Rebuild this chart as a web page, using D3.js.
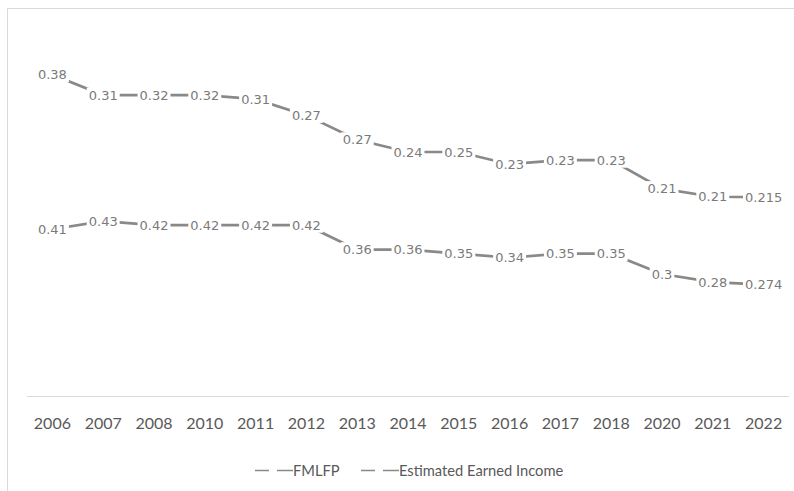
<!DOCTYPE html>
<html>
<head>
<meta charset="utf-8">
<script src="https://cdn.jsdelivr.net/npm/d3@7"></script>
<style>
  html, body { margin: 0; padding: 0; background: #fff; }
  svg { display: block; }
</style>
</head>
<body>
<svg id="chart" width="794" height="491"></svg>
<script>
// Categories and series (stacked line chart)
const years = ["2006","2007","2008","2010","2011","2012","2013","2014","2015","2016","2017","2018","2020","2021","2022"];
const fmlfp = [0.41,0.43,0.42,0.42,0.42,0.42,0.36,0.36,0.35,0.34,0.35,0.35,0.3,0.28,0.274];
const earnedIncome = [0.38,0.31,0.32,0.32,0.31,0.27,0.27,0.24,0.25,0.23,0.23,0.23,0.21,0.21,0.215];
const seriesNames = ["FMLFP", "Estimated Earned Income"];
const valueLabels = [fmlfp.map(String), earnedIncome.map(String)];

const W = 794, H = 491;
const svg = d3.select("#chart");

// chart frame
svg.append("path")
  .attr("d", `M7.5,${H} V8.5 H${W}`)
  .attr("fill", "none").attr("stroke", "#d9d9d9").attr("stroke-width", 1);

const rows = years.map((y, i) => ({ year: y, FMLFP: fmlfp[i], "Estimated Earned Income": earnedIncome[i] }));
const stacked = d3.stack().keys(seriesNames)(rows);

const x = d3.scaleBand().domain(years).range([27, 789]);
const cx = d => x(d) + x.bandwidth() / 2;
const y = d3.scaleLinear().domain([0, 0.9]).range([396, 30]);

// category axis
const xAxis = svg.append("g").attr("transform", "translate(0,396.5)")
  .call(d3.axisBottom(x).tickSize(0).tickPadding(21));
xAxis.select(".domain").attr("stroke", "#d9d9d9").attr("d", "M27,0H789");
xAxis.selectAll("text")
  .attr("font-family", "Lato, 'Open Sans', sans-serif")
  .attr("font-size", 16).attr("fill", "#595959");

// series lines
const line = d3.line().x((d, i) => cx(years[i])).y(d => y(d[1]));
svg.append("g").selectAll("path").data(stacked).join("path")
  .attr("d", s => line(s))
  .attr("fill", "none").attr("stroke", "#898989").attr("stroke-width", 2.7);

// data labels with white boxes, centred on the points
stacked.forEach((s, si) => {
  const g = svg.append("g");
  s.forEach((d, i) => {
    const lg = g.append("g").attr("transform", `translate(${cx(years[i])},${y(d[1])})`);
    const rect = lg.append("rect").attr("fill", "#fff");
    const t = lg.append("text").text(valueLabels[si][i])
      .attr("text-anchor", "middle").attr("dy", "0.35em")
      .attr("font-family", "'DejaVu Sans', Verdana, sans-serif")
      .attr("font-size", 13).attr("fill", "#7a7a7a");
    const b = t.node().getBBox();
    rect.attr("x", b.x - 2).attr("y", b.y).attr("width", b.width + 4).attr("height", b.height);
  });
});

// legend
const legendItems = [
  { name: seriesNames[0], x: 255 },
  { name: seriesNames[1], x: 361 }
];
const lg = svg.append("g").attr("transform", "translate(0,470.5)");
legendItems.forEach(it => {
  lg.append("line").attr("x1", it.x).attr("x2", it.x + 14).attr("y1", 0).attr("y2", 0)
    .attr("stroke", "#898989").attr("stroke-width", 1.5);
  lg.append("line").attr("x1", it.x + 22).attr("x2", it.x + 38).attr("y1", 0).attr("y2", 0)
    .attr("stroke", "#898989").attr("stroke-width", 1.5);
  lg.append("text").text(it.name).attr("x", it.x + 38).attr("dy", "0.35em")
    .attr("font-family", "Lato, 'Open Sans', sans-serif")
    .attr("font-size", 14.7).attr("fill", "#595959");
});
</script>
</body>
</html>
